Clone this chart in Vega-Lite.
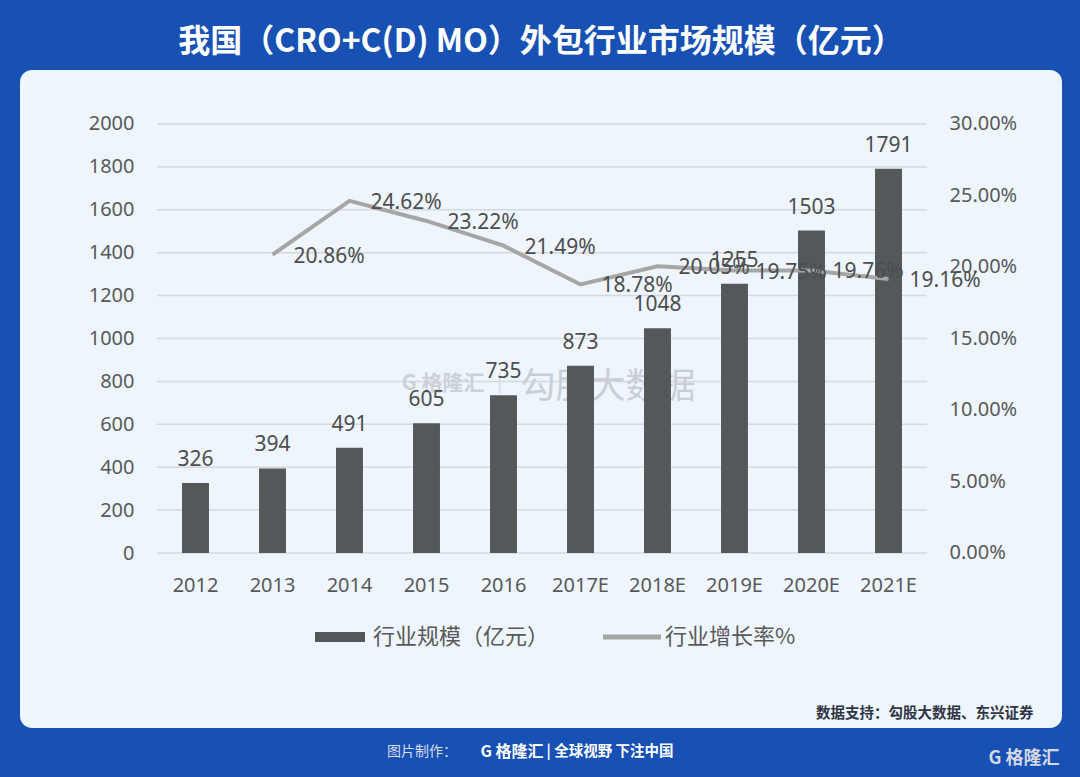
{
  "$schema": "https://vega.github.io/schema/vega-lite/v6.json",
  "width": 1042,
  "height": 658,
  "autosize": {"type": "none"},
  "padding": {"left": 20, "top": 70, "right": 18, "bottom": 49},
  "background": "#1751b4",
  "title": {
    "text": "我国（CRO+C(D) MO）外包行业市场规模（亿元）",
    "anchor": "middle",
    "frame": "group",
    "font": "Noto Sans CJK SC",
    "fontSize": 32,
    "fontWeight": "bold",
    "color": "#ffffff",
    "offset": 11
  },
  "data": {
    "values": [
      {"year": "2012", "scale": 326, "growth": null},
      {"year": "2013", "scale": 394, "growth": 0.2086},
      {"year": "2014", "scale": 491, "growth": 0.2462},
      {"year": "2015", "scale": 605, "growth": 0.2322},
      {"year": "2016", "scale": 735, "growth": 0.2149},
      {"year": "2017E", "scale": 873, "growth": 0.1878},
      {"year": "2018E", "scale": 1048, "growth": 0.2005},
      {"year": "2019E", "scale": 1255, "growth": 0.1975},
      {"year": "2020E", "scale": 1503, "growth": 0.1976},
      {"year": "2021E", "scale": 1791, "growth": 0.1916}
    ]
  },
  "resolve": {"scale": {"x": "independent", "y": "independent"}},
  "layer": [
    {
      "data": {"values": [{"g": 0}, {"g": 200}, {"g": 400}, {"g": 600}, {"g": 800}, {"g": 1000}, {"g": 1200}, {"g": 1400}, {"g": 1600}, {"g": 1800}, {"g": 2000}]},
      "mark": {"type": "rule", "color": "#d5d9de", "strokeWidth": 1.5},
      "encoding": {
        "x": {"datum": 0, "type": "quantitative", "scale": {"type": "linear", "domain": [-0.17792, 1.17532], "nice": false, "zero": false}, "axis": null},
        "x2": {"datum": 1},
        "y": {"field": "g", "type": "quantitative", "scale": {"type": "linear", "domain": [-815.8, 2251.7], "nice": false, "zero": false}, "axis": null}
      }
    },
    {
      "data": {"values": [{}]},
      "mark": {"type": "text", "text": "勾股大数据", "font": "Noto Sans CJK SC", "fontSize": 35, "color": "#c9ced4", "align": "center", "baseline": "middle"},
      "encoding": {
        "x": {"datum": 0.5857, "type": "quantitative", "scale": {"type": "linear", "domain": [-0.17792, 1.17532], "nice": false, "zero": false}, "axis": null},
        "y": {"datum": 774, "type": "quantitative", "scale": {"type": "linear", "domain": [-815.8, 2251.7], "nice": false, "zero": false}, "axis": null}
      }
    },
    {
      "data": {"values": [{}]},
      "mark": {"type": "text", "text": "G 格隆汇 ｜", "font": "Noto Sans CJK SC", "fontSize": 21, "fontWeight": "bold", "color": "#ccd1d7", "align": "center", "baseline": "middle"},
      "encoding": {
        "x": {"datum": 0.3883, "type": "quantitative", "scale": {"type": "linear", "domain": [-0.17792, 1.17532], "nice": false, "zero": false}, "axis": null},
        "y": {"datum": 788, "type": "quantitative", "scale": {"type": "linear", "domain": [-815.8, 2251.7], "nice": false, "zero": false}, "axis": null}
      }
    },
    {
      "mark": {"type": "bar", "color": "#54585b"},
      "encoding": {
        "x": {
          "field": "year", "type": "nominal", "sort": null,
          "scale": {"type": "band", "domain": ["2012", "2013", "2014", "2015", "2016", "2017E", "2018E", "2019E", "2020E", "2021E"], "range": [137, 907], "paddingInner": 0.65, "paddingOuter": 0.325},
          "axis": {
            "orient": "bottom", "offset": -175, "domain": false, "ticks": false, "tickSize": 0, "grid": false,
            "labelPadding": 22, "labelFontSize": 20, "labelColor": "#595959", "labelFont": "Noto Sans", "labelAngle": 0,
            "title": "数据支持：勾股大数据、东兴证券", "titleFont": "Noto Sans CJK SC", "titleFontSize": 14.5, "titleFontWeight": "bold",
            "titleColor": "#2f3544", "titleAnchor": "end", "titleAlign": "right", "titleBaseline": "middle", "titleX": 1013, "titleY": 160
          }
        },
        "y": {
          "field": "scale", "type": "quantitative",
          "scale": {"type": "linear", "domain": [-815.8, 2251.7], "nice": false, "zero": false},
          "axis": {
            "orient": "left", "offset": -137, "values": [0, 200, 400, 600, 800, 1000, 1200, 1400, 1600, 1800, 2000], "format": "d",
            "grid": false, "domain": false, "ticks": false, "tickSize": 0, "labelPadding": 23,
            "labelFontSize": 20, "labelColor": "#595959", "labelFont": "Noto Sans", "title": null
          }
        },
        "y2": {"datum": 0},
        "color": {
          "datum": "行业规模（亿元）",
          "type": "nominal",
          "scale": {"domain": ["行业规模（亿元）", "行业增长率%"], "range": ["#54585b", "#a6a6a6"]},
          "legend": {
            "orient": "none", "legendX": 295, "legendY": 542, "direction": "horizontal", "title": null,
            "symbolSize": 2500, "symbolStrokeWidth": 0, "symbolOpacity": 1,
            "labelFont": "Noto Sans CJK SC", "labelFontSize": 22, "labelColor": "#595959", "labelOffset": 8, "labelLimit": 400,
            "columnPadding": 53,
            "encode": {
              "symbols": {
                "update": {
                  "shape": {"signal": "datum.value === '行业规模（亿元）' ? 'M-1,-0.2H1V0.2H-1Z' : 'M-1.16,-0.1H1.16V0.1H-1.16Z'"},
                  "fill": {"signal": "datum.value === '行业规模（亿元）' ? '#54585b' : '#a6a6a6'"},
                  "opacity": {"value": 1}
                }
              }
            }
          }
        }
      }
    },
    {
      "mark": {"type": "text", "baseline": "bottom", "align": "center", "dy": -13, "fontSize": 21, "font": "Noto Sans", "color": "#4d4d4d"},
      "encoding": {
        "x": {"field": "year", "type": "nominal", "sort": null, "scale": {"type": "band", "domain": ["2012", "2013", "2014", "2015", "2016", "2017E", "2018E", "2019E", "2020E", "2021E"], "range": [137, 907], "paddingInner": 0.65, "paddingOuter": 0.325}, "axis": null},
        "y": {"field": "scale", "type": "quantitative", "scale": {"type": "linear", "domain": [-815.8, 2251.7], "nice": false, "zero": false}, "axis": null},
        "text": {"field": "scale", "type": "quantitative", "format": "d"}
      }
    },
    {
      "mark": {"type": "line", "color": "#a6a6a6", "strokeWidth": 4},
      "encoding": {
        "x": {"field": "year", "type": "nominal", "sort": null, "scale": {"type": "band", "domain": ["2012", "2013", "2014", "2015", "2016", "2017E", "2018E", "2019E", "2020E", "2021E"], "range": [137, 907], "paddingInner": 0.65, "paddingOuter": 0.325}, "axis": null},
        "y": {
          "field": "growth", "type": "quantitative",
          "scale": {"type": "linear", "domain": [-0.12238, 0.33776], "nice": false, "zero": false},
          "axis": {
            "orient": "right", "offset": -135, "values": [0, 0.05, 0.1, 0.15, 0.2, 0.25, 0.3], "format": ".2%",
            "grid": false, "domain": false, "ticks": false, "tickSize": 0, "labelPadding": 22,
            "labelFontSize": 20, "labelColor": "#595959", "labelFont": "Noto Sans", "title": null
          }
        }
      }
    },
    {
      "mark": {"type": "text", "baseline": "middle", "align": "left", "dx": 21, "dy": 2, "fontSize": 21, "font": "Noto Sans", "color": "#4d4d4d"},
      "encoding": {
        "x": {"field": "year", "type": "nominal", "sort": null, "scale": {"type": "band", "domain": ["2012", "2013", "2014", "2015", "2016", "2017E", "2018E", "2019E", "2020E", "2021E"], "range": [137, 907], "paddingInner": 0.65, "paddingOuter": 0.325}, "axis": null},
        "y": {"field": "growth", "type": "quantitative", "scale": {"type": "linear", "domain": [-0.12238, 0.33776], "nice": false, "zero": false}, "axis": null},
        "text": {"field": "growth", "type": "quantitative", "format": ".2%"}
      }
    },
    {
      "data": {"values": [{}]},
      "mark": {"type": "text", "text": "图片制作：", "font": "Noto Sans CJK SC", "fontSize": 14, "color": "#d9ddec", "align": "center", "baseline": "middle"},
      "encoding": {
        "x": {"datum": 0.3442, "type": "quantitative", "scale": {"type": "linear", "domain": [-0.17792, 1.17532], "nice": false, "zero": false}, "axis": null},
        "y": {"datum": -928, "type": "quantitative", "scale": {"type": "linear", "domain": [-815.8, 2251.7], "nice": false, "zero": false}, "axis": null}
      }
    },
    {
      "data": {"values": [{}]},
      "mark": {"type": "text", "text": "G 格隆汇", "font": "Noto Sans CJK SC", "fontSize": 16, "fontWeight": "bold", "color": "#ffffff", "align": "center", "baseline": "middle"},
      "encoding": {
        "x": {"datum": 0.4610, "type": "quantitative", "scale": {"type": "linear", "domain": [-0.17792, 1.17532], "nice": false, "zero": false}, "axis": null},
        "y": {"datum": -928, "type": "quantitative", "scale": {"type": "linear", "domain": [-815.8, 2251.7], "nice": false, "zero": false}, "axis": null}
      }
    },
    {
      "data": {"values": [{}]},
      "mark": {"type": "text", "text": "|  全球视野 下注中国", "font": "Noto Sans CJK SC", "fontSize": 14.5, "fontWeight": "bold", "color": "#ffffff", "align": "center", "baseline": "middle"},
      "encoding": {
        "x": {"datum": 0.5883, "type": "quantitative", "scale": {"type": "linear", "domain": [-0.17792, 1.17532], "nice": false, "zero": false}, "axis": null},
        "y": {"datum": -928, "type": "quantitative", "scale": {"type": "linear", "domain": [-815.8, 2251.7], "nice": false, "zero": false}, "axis": null}
      }
    },
    {
      "data": {"values": [{}]},
      "mark": {"type": "text", "text": "G 格隆汇", "font": "Noto Sans CJK SC", "fontSize": 18, "fontWeight": "bold", "color": "#d6d9e4", "align": "center", "baseline": "middle"},
      "encoding": {
        "x": {"datum": 1.1260, "type": "quantitative", "scale": {"type": "linear", "domain": [-0.17792, 1.17532], "nice": false, "zero": false}, "axis": null},
        "y": {"datum": -960, "type": "quantitative", "scale": {"type": "linear", "domain": [-815.8, 2251.7], "nice": false, "zero": false}, "axis": null}
      }
    }
  ],
  "config": {
    "font": "Noto Sans, Noto Sans CJK SC",
    "view": {"fill": "#eef5fd", "stroke": null, "cornerRadius": 12}
  }
}
